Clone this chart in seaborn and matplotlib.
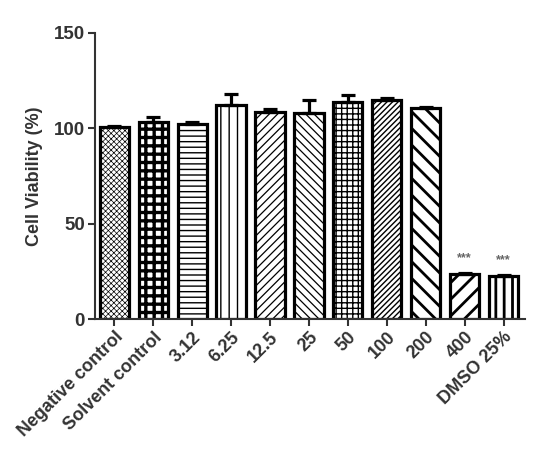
import numpy as np
import pandas as pd
import matplotlib
matplotlib.use("Agg")
import matplotlib.pyplot as plt
import seaborn as sns

# ---- data ----
groups = ["Negative control", "Solvent control", "3.12", "6.25", "12.5",
          "25", "50", "100", "200", "400", "DMSO 25%"]
viability = [100.5, 103.2, 102.0, 112.0, 108.3, 107.8, 114.0, 114.6, 110.5, 23.7, 22.8]
sem = [0.5, 2.5, 1.5, 6.2, 2.0, 7.2, 3.6, 1.0, 0.8, 0.5, 0.4]
significance = ["", "", "", "", "", "", "", "", "", "***", "***"]
yticks = [0, 50, 100, 150]

hatches = ["xxxxxx", "++", "---", "||", "////", "\\\\\\\\", "+++", "//////", "\\\\", "//", "||"]
hatch_lw = [0.5, 2.4, 1.0, 1.0, 0.9, 0.9, 1.0, 1.0, 2.0, 2.0, 2.0]

sns.set_theme(style="white")
plt.rcParams["font.family"] = ["Liberation Sans", "DejaVu Sans"]
plt.rcParams["font.weight"] = "bold"
plt.rcParams["hatch.linewidth"] = 1.0

txt = "#333333"
df = pd.DataFrame({"group": groups, "viability": viability})

fig = plt.figure(figsize=(5.48, 4.5), dpi=100)
ax = fig.add_axes([0.173, 0.291, 0.785, 0.636])

sns.barplot(data=df, x="group", y="viability", color="white", width=0.75,
            edgecolor="black", linewidth=2.3, errorbar=None, ax=ax, saturation=1)

for p, h, lw in zip(ax.patches, hatches, hatch_lw):
    p.set_facecolor("white")
    p.set_hatch(h)
    if hasattr(p, "set_hatch_linewidth"):
        p.set_hatch_linewidth(lw)

xpos = np.arange(len(groups))
ax.errorbar(xpos, viability, yerr=[np.zeros(len(sem)), sem], fmt="none",
            ecolor="black", elinewidth=2.3, capsize=5, capthick=2.3, zorder=1)

for x, v, t in zip(xpos, viability, significance):
    if t:
        ax.text(x, v + 8, t, ha="center", va="center", fontsize=9,
                color="#666666", fontweight="bold")

ax.set_ylim(0, 150)
ax.set_xlim(-0.5, 10.55)
ax.set_yticks(yticks)
ax.set_yticklabels([str(t) for t in yticks], fontsize=13.5, fontweight="bold", color=txt)
ax.set_xticks(xpos)
ax.set_xticklabels(groups, rotation=45, ha="right", rotation_mode="anchor",
                   fontsize=13, fontweight="bold", color=txt)
ax.set_xlabel("")
ax.set_ylabel("Cell Viability (%)", fontsize=13, fontweight="bold", color=txt, labelpad=8)

for side in ["top", "right"]:
    ax.spines[side].set_visible(False)
for side in ["left", "bottom"]:
    ax.spines[side].set_color("#333333")
    ax.spines[side].set_linewidth(1.5)
ax.tick_params(axis="both", which="major", direction="out", length=5, width=1.5,
               color="#333333", bottom=True, left=True, pad=2)
ax.grid(False)

fig.savefig("out.png", dpi=100)
